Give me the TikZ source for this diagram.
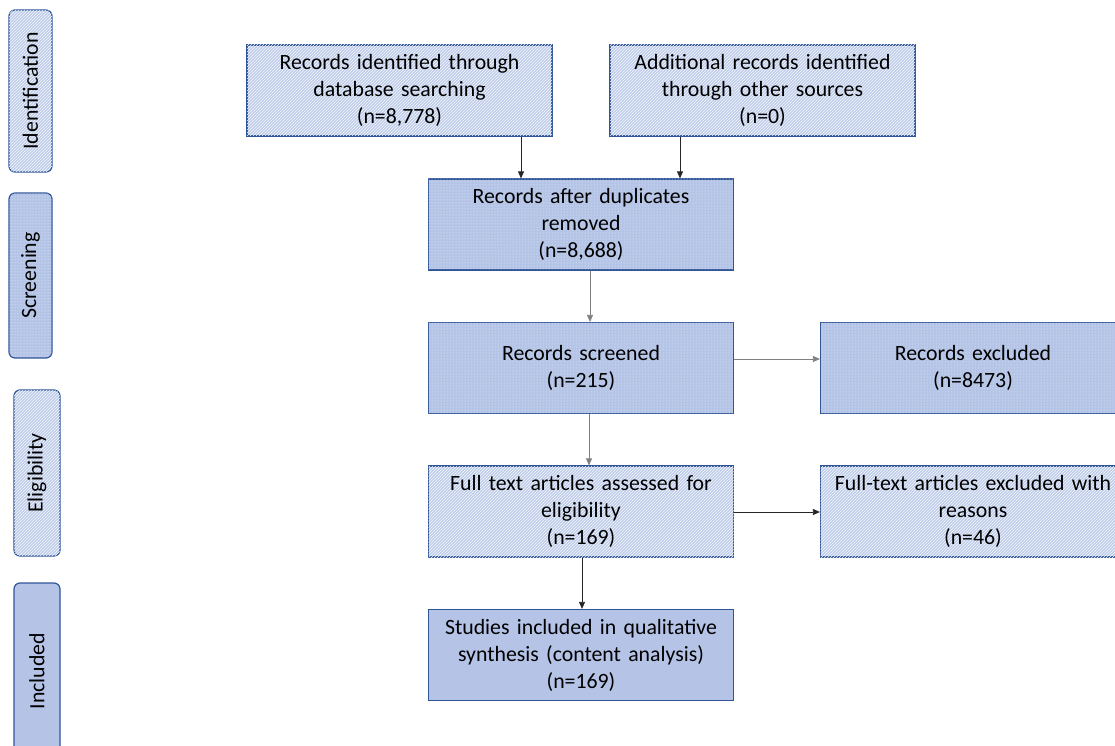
\documentclass[tikz,border=0pt]{standalone}
\usepackage{fontspec}
\setmainfont{Carlito}
\usetikzlibrary{patterns,arrows.meta}
\definecolor{bord}{HTML}{2F5597}
\definecolor{hatchbg}{HTML}{BFCDEB}
\definecolor{dotbg}{HTML}{B4C4E6}
\definecolor{solidbg}{HTML}{B4C3E6}
\tikzset{
  x=1pt,y=1pt,
  basebox/.style={draw=bord,line width=1.2pt,minimum width=305pt,minimum height=91pt,inner sep=0pt,
    text width=300pt,align=center,font=\fontsize{21.8}{27}\selectfont,text=black},
  hatchbox/.style={basebox,fill=hatchbg,postaction={pattern=north east lines,pattern color=white!85!hatchbg}},
  dotbox/.style={basebox,fill=dotbg,postaction={pattern=dots,pattern color=white!80!dotbg}},
  solidbox/.style={basebox,fill=solidbg},
  sidebox/.style={draw=bord,line width=1.2pt,rounded corners=6pt,inner sep=0pt,
    font=\fontsize{24.5}{28}\selectfont,text=black},
  arr/.style={-{Triangle[length=7pt,width=6pt]},line width=0.8pt,black!85},
  garr/.style={-{Triangle[length=7pt,width=6pt]},line width=0.8pt,black!50}
}
\begin{document}
\begin{tikzpicture}
\useasboundingbox (0,0) rectangle (1115,-746);
% side labels
\node[sidebox,hatchbox,rounded corners=6pt,text width={},minimum width=43pt,minimum height=162pt] (sid) at (30.5,-91) {\rotatebox{90}{Identification}};
\node[sidebox,dotbox,rounded corners=6pt,text width={},minimum width=43pt,minimum height=165pt] (ssc) at (30.5,-275.5) {\rotatebox{90}{Screening}};
\node[sidebox,hatchbox,rounded corners=6pt,text width={},minimum width=46pt,minimum height=166pt] (sel) at (37,-473) {\rotatebox{90}{Eligibility}};
\node[sidebox,solidbox,rounded corners=6pt,text width={},minimum width=46pt,minimum height=176pt] (sin) at (37,-671) {\rotatebox{90}{Included}};
% main boxes
\node[hatchbox] (A) at (399.5,-90.5) {Records identified through\\database searching\\(n=8,778)};
\node[hatchbox] (B) at (762.5,-90.5) {Additional records identified\\through other sources\\(n=0)};
\node[dotbox] (C) at (581,-224.5) {Records after duplicates\\removed\\(n=8,688)};
\node[dotbox] (D) at (581,-368) {Records screened\\(n=215)};
\node[dotbox] (E) at (973,-368) {Records excluded\\(n=8473)};
\node[hatchbox] (F) at (581,-511.5) {Full text articles assessed for\\eligibility\\(n=169)};
\node[hatchbox] (G) at (973,-511.5) {Full-text articles excluded with\\reasons\\(n=46)};
\node[solidbox] (H) at (581,-655) {Studies included in qualitative\\synthesis (content analysis)\\(n=169)};
% connectors
\draw[arr] (A.south -| 521,0) -- (C.north -| 521,0);
\draw[arr] (B.south -| 680,0) -- (C.north -| 680,0);
\draw[garr] (C.south -| 590,0) -- (D.north -| 590,0);
\draw[garr] (D.south -| 589,0) -- (F.north -| 589,0);
\draw[arr] (F.south -| 582,0) -- (H.north -| 582,0);
\draw[garr] (D.east |- 0,-359) -- (E.west |- 0,-359);
\draw[arr] (F.east |- 0,-512) -- (G.west |- 0,-512);
\end{tikzpicture}
\end{document}
